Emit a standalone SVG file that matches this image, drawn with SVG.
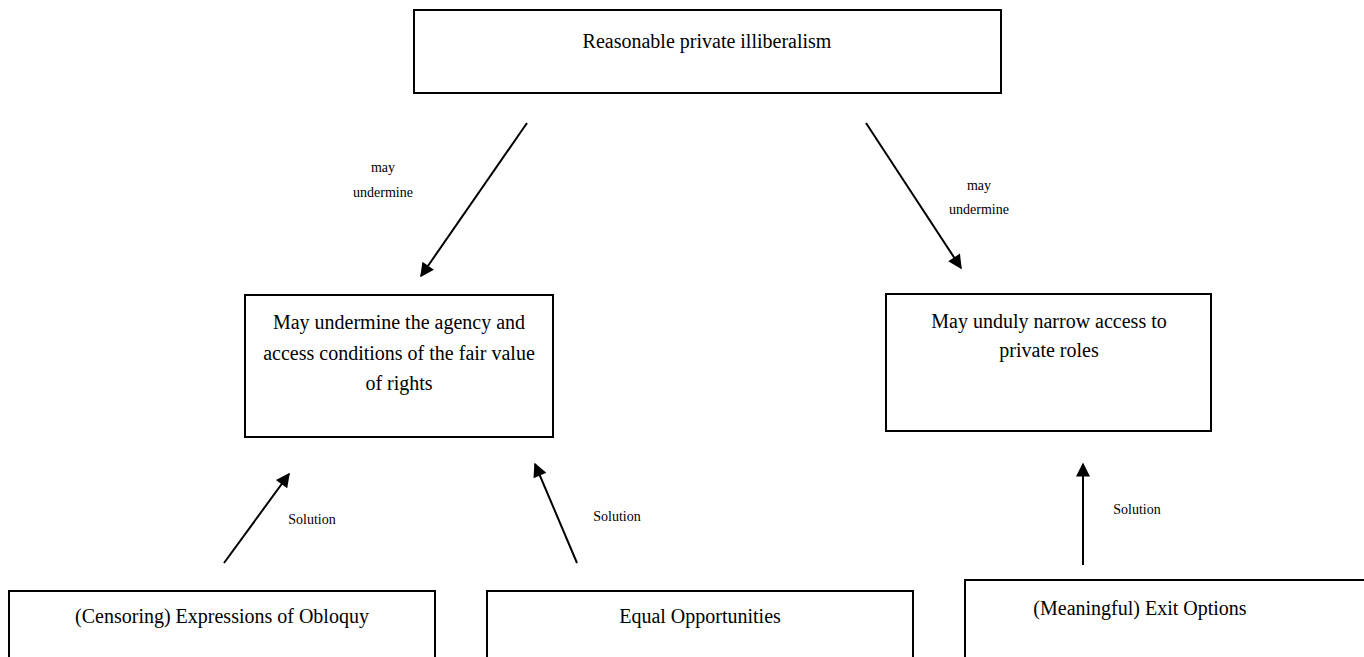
<svg xmlns="http://www.w3.org/2000/svg" width="1364" height="657" viewBox="0 0 1364 657">
<defs>
<style>
.box{fill:#fff;stroke:#000;stroke-width:2}
.t{font-family:"Liberation Serif","Times New Roman",serif;font-size:20px;fill:#000;text-anchor:middle}
.s{font-family:"Liberation Serif","Times New Roman",serif;font-size:14px;fill:#000;text-anchor:middle}
.c{stroke:#000;stroke-width:2;fill:none;marker-end:url(#ah)}
</style>
<marker id="ah" viewBox="0 0 10 10" refX="9" refY="5" markerWidth="8.5" markerHeight="7" markerUnits="strokeWidth" orient="auto">
<path d="M0,0 L10,5 L0,10 z" fill="#000"/>
</marker>
</defs>
<rect width="1364" height="657" fill="#fff"/>
<g id="connectors">
<line class="c" x1="527" y1="123" x2="421" y2="276"/>
<line class="c" x1="866" y1="123" x2="961" y2="268"/>
<line class="c" x1="224" y1="563" x2="289" y2="474"/>
<line class="c" x1="577" y1="563" x2="535" y2="464"/>
<line class="c" x1="1083" y1="565" x2="1083" y2="464"/>
<text class="s" x="383" y="172">may</text>
<text class="s" x="383" y="197">undermine</text>
<text class="s" x="979" y="190">may</text>
<text class="s" x="979" y="214">undermine</text>
<text class="s" x="312" y="524">Solution</text>
<text class="s" x="617" y="521">Solution</text>
<text class="s" x="1137" y="514">Solution</text>
</g>
<g id="n-top">
<rect class="box" x="414" y="10" width="587" height="83"/>
<text class="t" x="707" y="48">Reasonable private illiberalism</text>
</g>
<g id="n-agency">
<rect class="box" x="245" y="295" width="308" height="142"/>
<text class="t" x="399" y="329">May undermine the agency and</text>
<text class="t" x="399" y="360">access conditions of the fair value</text>
<text class="t" x="399" y="390">of rights</text>
</g>
<g id="n-access">
<rect class="box" x="886" y="294" width="325" height="137"/>
<text class="t" x="1049" y="328">May unduly narrow access to</text>
<text class="t" x="1049" y="357">private roles</text>
</g>
<g id="n-obloquy">
<rect class="box" x="9" y="591" width="426" height="80"/>
<text class="t" x="222" y="623">(Censoring) Expressions of Obloquy</text>
</g>
<g id="n-equal">
<rect class="box" x="487" y="591" width="426" height="80"/>
<text class="t" x="700" y="623">Equal Opportunities</text>
</g>
<g id="n-exit">
<rect class="box" x="965" y="580" width="420" height="90"/>
<text class="t" x="1140" y="615">(Meaningful) Exit Options</text>
</g>
</svg>
